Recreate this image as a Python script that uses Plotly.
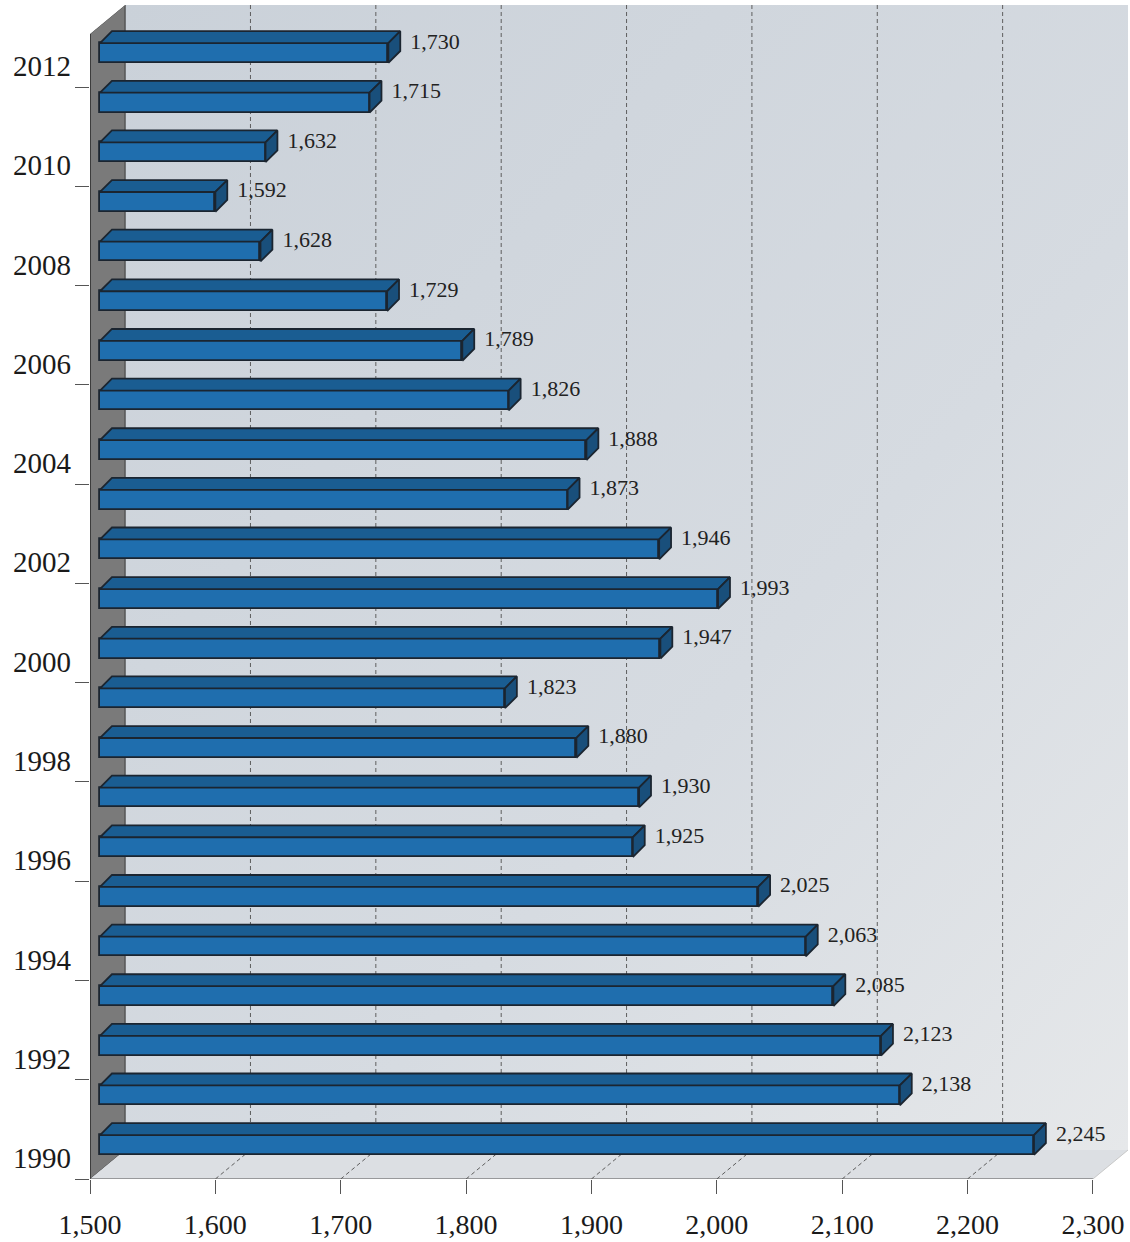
import base64
import plotly.graph_objects as go

# ---------------- data ----------------
years = list(range(1990, 2013))
values = [2245, 2138, 2123, 2085, 2063, 2025, 1925, 1930, 1880, 1823,
          1947, 1993, 1946, 1873, 1888, 1826, 1789, 1729, 1628, 1592,
          1632, 1715, 1730]
x_ticks = [1500, 1600, 1700, 1800, 1900, 2000, 2100, 2200, 2300]
year_labels = [y for y in years if y % 2 == 0]

# ---------------- style / geometry constants ----------------
X_MIN, X_MAX = 1500, 2328
Y_MIN, Y_MAX = 1989.315, 2012.967
WALL_DX, WALL_DY = 28, 0.584          # depth of the 3D box
FLOOR_BACK = Y_MIN + WALL_DY
BAR_SHIFT = 8                         # front faces sit slightly right of the axis
BAR_HALF = 0.2                        # half height of the front face
BAR_DX, BAR_DY = 9.5, 0.24            # depth of each bar
LABEL_GAP = 8
SERIF = "Liberation Serif, Times New Roman, serif"

FRONT = "#1f6eae"
TOP = "#1a5d92"
SIDE = "#194f7b"
EDGE = "#1b2530"
GRID_DASH = "4px,3px"

fig = go.Figure()

# front faces (bars)
fig.add_trace(go.Bar(
    y=years, x=[v - X_MIN for v in values], base=X_MIN + BAR_SHIFT,
    orientation="h", width=2 * BAR_HALF,
    marker=dict(color=FRONT, line=dict(color=EDGE, width=1.8)),
    hoverinfo="skip", showlegend=False))

# top faces and right side faces
top_x, top_y, side_x, side_y = [], [], [], []
for yr, v in zip(years, values):
    x0 = X_MIN + BAR_SHIFT
    x1 = v + BAR_SHIFT
    yt = yr + BAR_HALF
    yb = yr - BAR_HALF
    top_x += [x0, x0 + BAR_DX, x1 + BAR_DX, x1, x0, None]
    top_y += [yt, yt + BAR_DY, yt + BAR_DY, yt, yt, None]
    side_x += [x1, x1, x1 + BAR_DX, x1 + BAR_DX, x1, None]
    side_y += [yb, yt, yt + BAR_DY, yb + BAR_DY, yb, None]

fig.add_trace(go.Scatter(x=top_x, y=top_y, mode="lines", fill="toself",
                         fillcolor=TOP, line=dict(color=EDGE, width=1.8),
                         hoverinfo="skip", showlegend=False))
fig.add_trace(go.Scatter(x=side_x, y=side_y, mode="lines", fill="toself",
                         fillcolor=SIDE, line=dict(color=EDGE, width=1.8),
                         hoverinfo="skip", showlegend=False))

# value labels
fig.add_trace(go.Scatter(
    x=[v + BAR_SHIFT + BAR_DX + LABEL_GAP for v in values],
    y=[yr + BAR_HALF for yr in years],
    text=[f"{v:,}" for v in values], mode="text",
    textposition="middle right",
    textfont=dict(family=SERIF, size=22, color="#222222"),
    cliponaxis=False, hoverinfo="skip", showlegend=False))

# ---------------- background box ----------------
svg = ('<svg xmlns="http://www.w3.org/2000/svg" width="100" height="100" '
       'viewBox="0 0 100 100" preserveAspectRatio="none">'
       '<defs><linearGradient id="g" x1="0" y1="0" x2="1" y2="1">'
       '<stop offset="0" stop-color="#cad1d9"/>'
       '<stop offset="0.6" stop-color="#d6dbe1"/>'
       '<stop offset="1" stop-color="#e6e8ea"/>'
       '</linearGradient></defs>'
       '<rect width="100" height="100" fill="url(#g)"/></svg>')
src = "data:image/svg+xml;base64," + base64.b64encode(svg.encode()).decode()

BG = "between"
shapes = []
# left wall
shapes.append(dict(type="path", xref="x", yref="y", layer=BG,
                   path=f"M {X_MIN},{Y_MAX - WALL_DY} L {X_MIN + WALL_DX},{Y_MAX} "
                        f"L {X_MIN + WALL_DX},{FLOOR_BACK} L {X_MIN},{Y_MIN} Z",
                   fillcolor="#7a7a7a", line=dict(color="#3a3a3a", width=1)))
# floor
shapes.append(dict(type="path", xref="x", yref="y", layer=BG,
                   path=f"M {X_MIN},{Y_MIN} L {X_MIN + WALL_DX},{FLOOR_BACK} "
                        f"L {X_MAX},{FLOOR_BACK} L {x_ticks[-1]},{Y_MIN} Z",
                   fillcolor="#dcdfe3", line=dict(width=0)))
# white corners outside the box
shapes.append(dict(type="path", xref="x", yref="y", layer=BG,
                   path=f"M {X_MIN},{Y_MAX} L {X_MIN + WALL_DX},{Y_MAX} "
                        f"L {X_MIN},{Y_MAX - WALL_DY} Z",
                   fillcolor="white", line=dict(width=0)))
shapes.append(dict(type="path", xref="x", yref="y", layer=BG,
                   path=f"M {x_ticks[-1]},{Y_MIN} L {X_MAX},{FLOOR_BACK} "
                        f"L {X_MAX},{Y_MIN} Z",
                   fillcolor="white", line=dict(width=0)))
# dashed grid lines on back wall and floor
for t in x_ticks[1:-1]:
    shapes.append(dict(type="line", xref="x", yref="y", layer=BG,
                       x0=t + WALL_DX, x1=t + WALL_DX, y0=FLOOR_BACK, y1=Y_MAX,
                       line=dict(color="#5e5e5e", width=1, dash=GRID_DASH)))
    shapes.append(dict(type="line", xref="x", yref="y", layer=BG,
                       x0=t, x1=t + WALL_DX, y0=Y_MIN, y1=FLOOR_BACK,
                       line=dict(color="#5e5e5e", width=1, dash=GRID_DASH)))
# floor right edge
shapes.append(dict(type="line", xref="x", yref="y", layer=BG,
                   x0=x_ticks[-1], x1=X_MAX, y0=Y_MIN, y1=FLOOR_BACK,
                   line=dict(color="#c8c8c8", width=1)))
# front floor edge and left wall edge
shapes.append(dict(type="line", xref="x", yref="y", layer="above",
                   x0=X_MIN, x1=x_ticks[-1], y0=Y_MIN, y1=Y_MIN,
                   line=dict(color="#555555", width=1.2)))
shapes.append(dict(type="line", xref="x", yref="y", layer=BG,
                   x0=X_MIN, x1=X_MIN, y0=Y_MIN, y1=Y_MAX - WALL_DY,
                   line=dict(color="#333333", width=1.5)))

fig.update_layout(
    width=1130, height=1242,
    margin=dict(l=90, r=2, t=5, b=63),
    paper_bgcolor="white", plot_bgcolor="#d6dadf",
    bargap=0, showlegend=False,
    shapes=shapes,
    images=[dict(source=src, xref="x", yref="y", x=X_MIN + WALL_DX, y=Y_MAX,
                 sizex=X_MAX - X_MIN - WALL_DX, sizey=Y_MAX - FLOOR_BACK,
                 xanchor="left", yanchor="top", sizing="stretch", layer="below")],
    xaxis=dict(range=[X_MIN, X_MAX], tickvals=x_ticks,
               ticktext=[f"{t:,}" for t in x_ticks],
               ticks="outside", ticklen=14, tickcolor="#555555",
               tickfont=dict(family=SERIF, size=28, color="#1a1a1a"),
               ticklabelstandoff=6,
               showgrid=False, zeroline=False, showline=False),
    yaxis=dict(range=[Y_MIN, Y_MAX],
               tickvals=[y - 0.26 for y in year_labels],
               ticktext=[str(y) for y in year_labels],
               ticks="", ticklabelstandoff=18,
               tickfont=dict(family=SERIF, size=29, color="#1a1a1a"),
               minor=dict(tickvals=[y - 0.685 for y in year_labels],
                          ticks="outside", ticklen=14, tickcolor="#555555",
                          showgrid=False),
               showgrid=False, zeroline=False, showline=False),
)

fig.write_html("out.html")
